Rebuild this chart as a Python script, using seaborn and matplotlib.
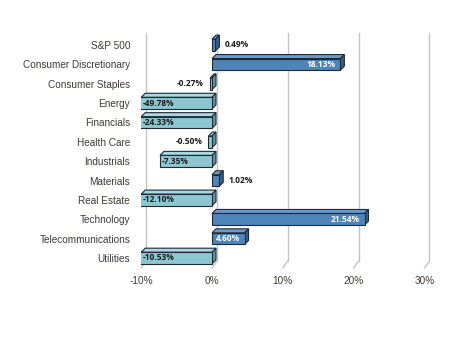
import matplotlib
matplotlib.use("Agg")
import matplotlib.pyplot as plt
from matplotlib.patches import Polygon
from matplotlib.lines import Line2D
import seaborn as sns
import pandas as pd

categories = ["S&P 500", "Consumer Discretionary", "Consumer Staples", "Energy",
              "Financials", "Health Care", "Industrials", "Materials", "Real Estate",
              "Technology", "Telecommunications", "Utilities"]
values = [0.49, 18.13, -0.27, -49.78, -24.33, -0.50, -7.35, 1.02, -12.10, 21.54, 4.60, -10.53]
x_ticks = [-10, 0, 10, 20, 30]
x_tick_labels = ["-10%", "0%", "10%", "20%", "30%"]

sns.set_style("white")
plt.rcParams["font.family"] = ["Liberation Sans", "DejaVu Sans"]

W, H, DPI = 450, 341, 100
fig = plt.figure(figsize=(W / DPI, H / DPI), dpi=DPI)
ax_top_px, ax_bot_px = 38, 268
ax = fig.add_axes([141.2 / W, 1 - ax_bot_px / H, 283.2 / W, (ax_bot_px - ax_top_px) / H])

df = pd.DataFrame({"cat": categories, "val": values,
                   "sign": ["pos" if v >= 0 else "neg" for v in values]})
front = {"pos": "#4F84B9", "neg": "#8CC6D1"}
side = {"pos": "#365E8A", "neg": "#5C96A3"}
topc = {"pos": "#6F98C6", "neg": "#AAD7E0"}
edge = "#1E2B36"

sns.barplot(data=df, x="val", y="cat", hue="sign", palette=front, orient="h",
            dodge=False, legend=False, width=0.6, ax=ax, edgecolor=edge,
            linewidth=0.8, saturation=1, zorder=3)

ax.set_xlim(-10, 30)
spacing = (258 - 45) / 11
ax.set_ylim(11 + (ax_bot_px - 258) / spacing, -(45 - ax_top_px) / spacing)
for s in ax.spines.values():
    s.set_visible(False)
ax.set_xlabel("")
ax.set_ylabel("")
ax.set_xticks(x_ticks)
ax.set_xticklabels(x_tick_labels)
ax.tick_params(axis="y", length=0, pad=7.9, labelsize=7.2, labelcolor="#3F3A36")
ax.tick_params(axis="x", length=0, pad=5.5, labelsize=7.2, labelcolor="#3F3A36")
ax.grid(False)

# 3D gridlines (back wall + floor diagonal)
D = 5
tr = ax.transData
yb = ax.transAxes.transform((0, 0))[1]
yt = ax.transAxes.transform((0, 1))[1]
for v in x_ticks:
    xd = tr.transform((v, 0))[0]
    ax.add_line(Line2D([xd + D, xd + D], [yb + 7, yt + 5], transform=None,
                       color="#C4C4C4", lw=1.0, zorder=1, clip_on=False))
    ax.add_line(Line2D([xd, xd + D], [yb, yb + 7], transform=None,
                       color="#C4C4C4", lw=1.0, zorder=1, clip_on=False))

# 3D faces for bars
d = 4
xl = tr.transform((-10, 0))[0]
for p in list(ax.patches):
    x, w = p.get_x(), p.get_width()
    y, h = p.get_y(), p.get_height()
    if h == 0:
        continue
    x0, x1 = min(x, x + w), max(x, x + w)
    key = "pos" if x + w > 0 or x > 0 else "neg"
    (X0, Y0), (X1, Y1) = tr.transform((x0, y + h)), tr.transform((x1, y))
    Ybot, Ytop = min(Y0, Y1), max(Y0, Y1)
    X0 = max(X0, xl)
    top_poly = Polygon([(X0, Ytop), (X1, Ytop), (X1 + d, Ytop + d), (X0 + d, Ytop + d)],
                       closed=True, transform=None, facecolor=topc[key],
                       edgecolor=edge, lw=0.8, zorder=2.5)
    side_poly = Polygon([(X1, Ybot), (X1, Ytop), (X1 + d, Ytop + d), (X1 + d, Ybot + d)],
                        closed=True, transform=None, facecolor=side[key],
                        edgecolor=edge, lw=0.8, zorder=2.5)
    ax.add_patch(top_poly)
    ax.add_patch(side_poly)
    top_poly.set_clip_on(False)
    side_poly.set_clip_on(False)
    if X0 <= xl + 0.5:
        top_poly.set_clip_on(True)

# data labels
lab_font = dict(fontsize=6.0, fontweight="bold", family=["Open Sans", "DejaVu Sans"])
for i, v in enumerate(values):
    txt = f"{v:.2f}%"
    if v >= 0:
        if v > 2:
            ax.annotate(txt, (v, i), xytext=(-5, 0), textcoords="offset pixels",
                        ha="right", va="center", color="white", zorder=5, **lab_font)
        else:
            ax.annotate(txt, (v, i), xytext=(d + 5, 0), textcoords="offset pixels",
                        ha="left", va="center", color="#1A1A1A", zorder=5, **lab_font)
    else:
        if v < -2:
            ax.annotate(txt, (max(v, -10), i), xytext=(2, 0), textcoords="offset pixels",
                        ha="left", va="center", color="#1A1A1A", zorder=5, **lab_font)
        else:
            ax.annotate(txt, (v, i), xytext=(-6, 0), textcoords="offset pixels",
                        ha="right", va="center", color="#1A1A1A", zorder=5, **lab_font)

fig.savefig("out.png", dpi=DPI)
